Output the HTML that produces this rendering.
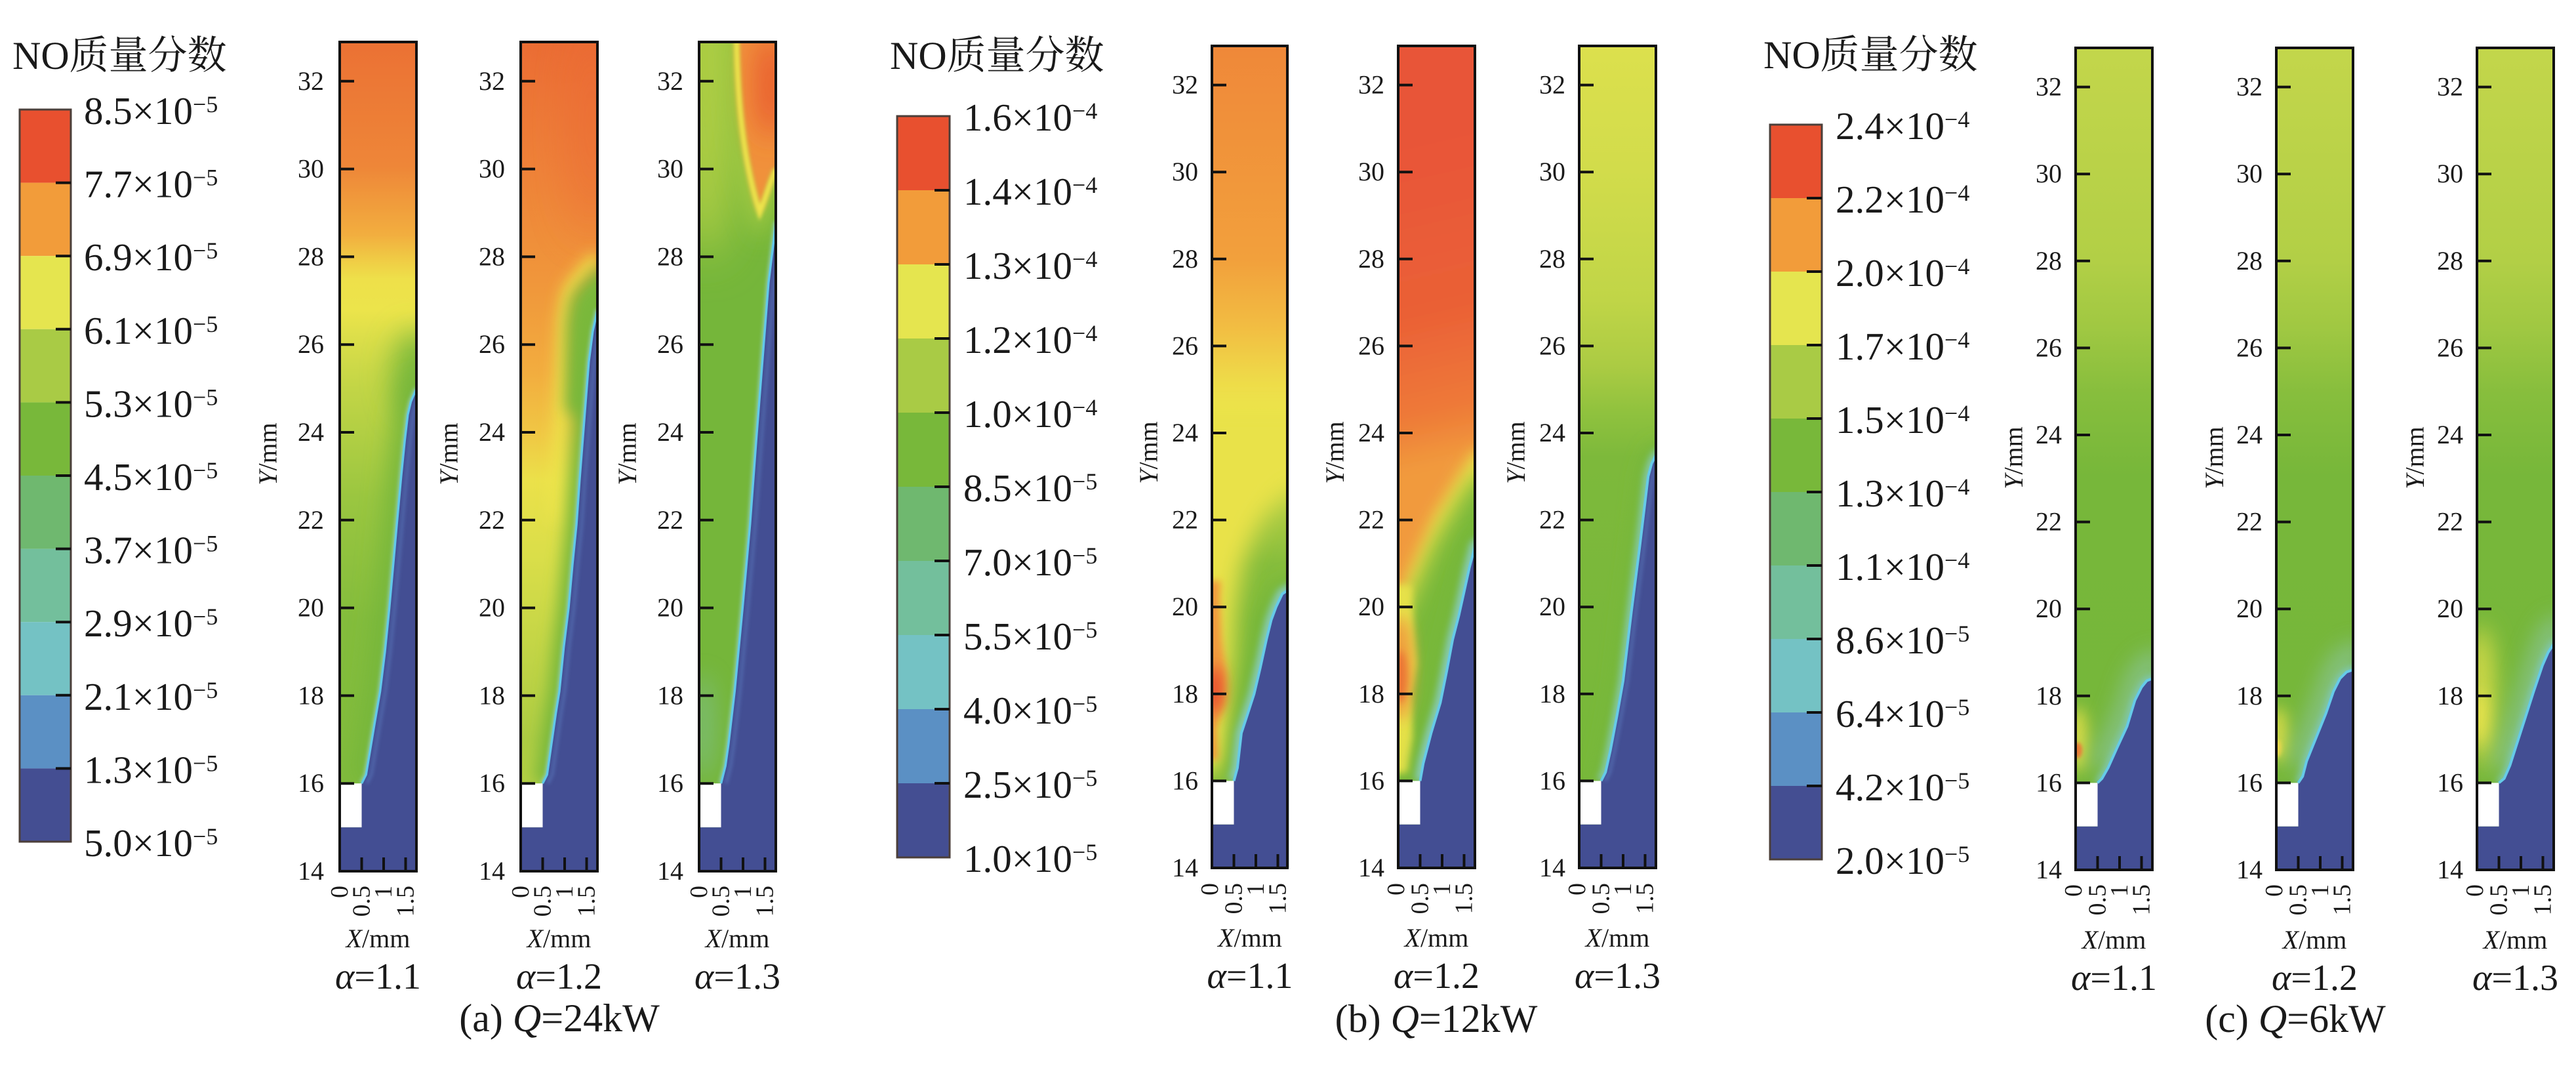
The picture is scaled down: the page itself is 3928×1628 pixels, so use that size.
<!DOCTYPE html>
<html><head><meta charset="utf-8"><style>
html,body{margin:0;padding:0;background:#fff}
svg{display:block}
text{font-family:"Liberation Serif","Noto Serif CJK SC",serif;fill:#1a1a1a}
</style></head><body>
<svg xmlns="http://www.w3.org/2000/svg" width="3928" height="1628" viewBox="0 0 3928 1628">
<defs>
<clipPath id="cp"><rect x="0" y="14" width="1.75" height="18.9"/></clipPath>
<filter id="fb03" filterUnits="userSpaceOnUse" x="-2" y="10" width="6" height="26"><feGaussianBlur stdDeviation="0.04"/></filter>
<filter id="fb05" filterUnits="userSpaceOnUse" x="-2" y="10" width="6" height="26"><feGaussianBlur stdDeviation="0.08"/></filter>
<filter id="fb1" filterUnits="userSpaceOnUse" x="-2" y="10" width="6" height="26"><feGaussianBlur stdDeviation="0.17"/></filter>
<filter id="fb15" filterUnits="userSpaceOnUse" x="-2" y="10" width="6" height="26"><feGaussianBlur stdDeviation="0.26"/></filter>
<filter id="fb2" filterUnits="userSpaceOnUse" x="-2" y="10" width="6" height="26"><feGaussianBlur stdDeviation="0.33"/></filter>
<filter id="fb35" filterUnits="userSpaceOnUse" x="-2" y="10" width="6" height="26"><feGaussianBlur stdDeviation="0.5"/></filter>
<linearGradient id="gA1" gradientUnits="userSpaceOnUse" x1="0" y1="32.9" x2="0" y2="14">
<stop offset="0" stop-color="#EB7134"/><stop offset="0.15" stop-color="#EE8638"/><stop offset="0.233" stop-color="#F2AE3F"/><stop offset="0.259" stop-color="#F0C844"/><stop offset="0.286" stop-color="#EEE04A"/><stop offset="0.323" stop-color="#ECE44B"/><stop offset="0.365" stop-color="#D8DD49"/><stop offset="0.418" stop-color="#C2D546"/><stop offset="0.55" stop-color="#9AC640"/><stop offset="0.70" stop-color="#83BC3C"/><stop offset="1" stop-color="#80BB3C"/>
</linearGradient>
<linearGradient id="gA2" gradientUnits="userSpaceOnUse" x1="0" y1="32.9" x2="0" y2="14">
<stop offset="0" stop-color="#EB6D34"/><stop offset="0.16" stop-color="#EE8339"/><stop offset="0.30" stop-color="#F0983B"/><stop offset="0.40" stop-color="#F2AD3F"/><stop offset="0.47" stop-color="#F0C644"/><stop offset="0.53" stop-color="#EBE14A"/><stop offset="0.62" stop-color="#DADE49"/><stop offset="0.73" stop-color="#C3D546"/><stop offset="0.84" stop-color="#ADCC43"/><stop offset="0.90" stop-color="#B4CF44"/><stop offset="1" stop-color="#B4CF44"/>
</linearGradient>
<linearGradient id="gB1" gradientUnits="userSpaceOnUse" x1="0" y1="32.9" x2="0" y2="14">
<stop offset="0" stop-color="#EF8839"/><stop offset="0.26" stop-color="#F2A03C"/><stop offset="0.34" stop-color="#F2BC42"/><stop offset="0.41" stop-color="#EEDC49"/><stop offset="0.444" stop-color="#EEE44B"/><stop offset="0.524" stop-color="#D6DD48"/><stop offset="0.577" stop-color="#A8CA42"/><stop offset="0.63" stop-color="#86BD3C"/><stop offset="0.70" stop-color="#79B83A"/><stop offset="1" stop-color="#78B83A"/>
</linearGradient>
<linearGradient id="gB2r" gradientUnits="userSpaceOnUse" x1="0" y1="31" x2="1.75" y2="23.5">
<stop offset="0" stop-color="#E85438"/><stop offset="0.55" stop-color="#EA6036"/><stop offset="0.85" stop-color="#EE7A38"/><stop offset="1" stop-color="#F19A3C"/>
</linearGradient>
<linearGradient id="gB3" gradientUnits="userSpaceOnUse" x1="0" y1="32.9" x2="0" y2="14">
<stop offset="0" stop-color="#DCE04D"/><stop offset="0.15" stop-color="#D2DC4B"/><stop offset="0.31" stop-color="#C0D547"/><stop offset="0.39" stop-color="#ABCB43"/><stop offset="0.445" stop-color="#90C23E"/><stop offset="0.50" stop-color="#7DB93B"/><stop offset="1" stop-color="#76B73A"/>
</linearGradient>
<linearGradient id="gC" gradientUnits="userSpaceOnUse" x1="0" y1="32.9" x2="0" y2="14">
<stop offset="0" stop-color="#C3D64B"/><stop offset="0.26" stop-color="#B2CF46"/><stop offset="0.34" stop-color="#A0C842"/><stop offset="0.42" stop-color="#87BE3D"/><stop offset="0.52" stop-color="#77B73A"/><stop offset="1" stop-color="#76B73A"/>
</linearGradient>
</defs>

<!-- ================= LEGEND A ================= -->
<text x="19" y="105" font-size="60">NO质量分数</text>
<g>
<rect x="30" y="167" width="78" height="111.6" fill="#E8502F"/>
<rect x="30" y="278.6" width="78" height="111.6" fill="#F29C3A"/>
<rect x="30" y="390.2" width="78" height="111.6" fill="#E5E54F"/>
<rect x="30" y="501.8" width="78" height="111.6" fill="#A9CB45"/>
<rect x="30" y="613.4" width="78" height="111.6" fill="#78B83A"/>
<rect x="30" y="725" width="78" height="111.6" fill="#6FB86F"/>
<rect x="30" y="836.6" width="78" height="111.6" fill="#73BF9C"/>
<rect x="30" y="948.2" width="78" height="111.6" fill="#74C2C4"/>
<rect x="30" y="1059.8" width="78" height="111.6" fill="#5B90C4"/>
<rect x="30" y="1171.4" width="78" height="111.6" fill="#444E92"/>
<rect x="30" y="167" width="78" height="1116" fill="none" stroke="#4b3f3a" stroke-width="3"/>
<path d="M85,278.6h23M85,390.2h23M85,501.8h23M85,613.4h23M85,725h23M85,836.6h23M85,948.2h23M85,1059.8h23M85,1171.4h23" stroke="#111" stroke-width="4"/>
</g>
<g font-size="59">
<text x="128" y="189">8.5×10<tspan dy="-18" font-size="36">−5</tspan></text>
<text x="128" y="300.6">7.7×10<tspan dy="-18" font-size="36">−5</tspan></text>
<text x="128" y="412.2">6.9×10<tspan dy="-18" font-size="36">−5</tspan></text>
<text x="128" y="523.8">6.1×10<tspan dy="-18" font-size="36">−5</tspan></text>
<text x="128" y="635.4">5.3×10<tspan dy="-18" font-size="36">−5</tspan></text>
<text x="128" y="747">4.5×10<tspan dy="-18" font-size="36">−5</tspan></text>
<text x="128" y="858.6">3.7×10<tspan dy="-18" font-size="36">−5</tspan></text>
<text x="128" y="970.2">2.9×10<tspan dy="-18" font-size="36">−5</tspan></text>
<text x="128" y="1081.8">2.1×10<tspan dy="-18" font-size="36">−5</tspan></text>
<text x="128" y="1193.4">1.3×10<tspan dy="-18" font-size="36">−5</tspan></text>
<text x="128" y="1305">5.0×10<tspan dy="-18" font-size="36">−5</tspan></text>
</g>

<!-- ================= LEGEND B ================= -->
<text x="1357" y="105" font-size="60">NO质量分数</text>
<g>
<rect x="1368" y="177" width="80" height="113" fill="#E8502F"/>
<rect x="1368" y="290" width="80" height="113" fill="#F29C3A"/>
<rect x="1368" y="403" width="80" height="113" fill="#E5E54F"/>
<rect x="1368" y="516" width="80" height="113" fill="#A9CB45"/>
<rect x="1368" y="629" width="80" height="113" fill="#78B83A"/>
<rect x="1368" y="742" width="80" height="113" fill="#6FB86F"/>
<rect x="1368" y="855" width="80" height="113" fill="#73BF9C"/>
<rect x="1368" y="968" width="80" height="113" fill="#74C2C4"/>
<rect x="1368" y="1081" width="80" height="113" fill="#5B90C4"/>
<rect x="1368" y="1194" width="80" height="113" fill="#444E92"/>
<rect x="1368" y="177" width="80" height="1130" fill="none" stroke="#4b3f3a" stroke-width="3"/>
<path d="M1425,290h23M1425,403h23M1425,516h23M1425,629h23M1425,742h23M1425,855h23M1425,968h23M1425,1081h23M1425,1194h23" stroke="#111" stroke-width="4"/>
</g>
<g font-size="59">
<text x="1469" y="199">1.6×10<tspan dy="-18" font-size="36">−4</tspan></text>
<text x="1469" y="312">1.4×10<tspan dy="-18" font-size="36">−4</tspan></text>
<text x="1469" y="425">1.3×10<tspan dy="-18" font-size="36">−4</tspan></text>
<text x="1469" y="538">1.2×10<tspan dy="-18" font-size="36">−4</tspan></text>
<text x="1469" y="651">1.0×10<tspan dy="-18" font-size="36">−4</tspan></text>
<text x="1469" y="764">8.5×10<tspan dy="-18" font-size="36">−5</tspan></text>
<text x="1469" y="877">7.0×10<tspan dy="-18" font-size="36">−5</tspan></text>
<text x="1469" y="990">5.5×10<tspan dy="-18" font-size="36">−5</tspan></text>
<text x="1469" y="1103">4.0×10<tspan dy="-18" font-size="36">−5</tspan></text>
<text x="1469" y="1216">2.5×10<tspan dy="-18" font-size="36">−5</tspan></text>
<text x="1469" y="1329">1.0×10<tspan dy="-18" font-size="36">−5</tspan></text>
</g>

<!-- ================= LEGEND C ================= -->
<text x="2689" y="104" font-size="60">NO质量分数</text>
<g>
<rect x="2699" y="190" width="79" height="112" fill="#E8502F"/>
<rect x="2699" y="302" width="79" height="112" fill="#F29C3A"/>
<rect x="2699" y="414" width="79" height="112" fill="#E5E54F"/>
<rect x="2699" y="526" width="79" height="112" fill="#A9CB45"/>
<rect x="2699" y="638" width="79" height="112" fill="#78B83A"/>
<rect x="2699" y="750" width="79" height="112" fill="#6FB86F"/>
<rect x="2699" y="862" width="79" height="112" fill="#73BF9C"/>
<rect x="2699" y="974" width="79" height="112" fill="#74C2C4"/>
<rect x="2699" y="1086" width="79" height="112" fill="#5B90C4"/>
<rect x="2699" y="1198" width="79" height="112" fill="#444E92"/>
<rect x="2699" y="190" width="79" height="1120" fill="none" stroke="#4b3f3a" stroke-width="3"/>
<path d="M2755,302h23M2755,414h23M2755,526h23M2755,638h23M2755,750h23M2755,862h23M2755,974h23M2755,1086h23M2755,1198h23" stroke="#111" stroke-width="4"/>
</g>
<g font-size="59">
<text x="2799" y="212">2.4×10<tspan dy="-18" font-size="36">−4</tspan></text>
<text x="2799" y="324">2.2×10<tspan dy="-18" font-size="36">−4</tspan></text>
<text x="2799" y="436">2.0×10<tspan dy="-18" font-size="36">−4</tspan></text>
<text x="2799" y="548">1.7×10<tspan dy="-18" font-size="36">−4</tspan></text>
<text x="2799" y="660">1.5×10<tspan dy="-18" font-size="36">−4</tspan></text>
<text x="2799" y="772">1.3×10<tspan dy="-18" font-size="36">−4</tspan></text>
<text x="2799" y="884">1.1×10<tspan dy="-18" font-size="36">−4</tspan></text>
<text x="2799" y="996">8.6×10<tspan dy="-18" font-size="36">−5</tspan></text>
<text x="2799" y="1108">6.4×10<tspan dy="-18" font-size="36">−5</tspan></text>
<text x="2799" y="1220">4.2×10<tspan dy="-18" font-size="36">−5</tspan></text>
<text x="2799" y="1332">2.0×10<tspan dy="-18" font-size="36">−5</tspan></text>
</g>

<!-- ================= PANEL A1 ================= -->
<g transform="translate(518,0)">
 <g transform="translate(0,2264.6) scale(67,-66.9)"><g clip-path="url(#cp)">
  <rect x="-1" y="13" width="4" height="21" fill="url(#gA1)"/>
  <ellipse cx="1.75" cy="25.3" rx="0.55" ry="1.0" fill="#78B83A" filter="url(#fb2)"/>
  <path d="M0.5,16 L0.6,16.2 L0.7,16.8 L0.8,17.4 L0.92,18.1 L1.03,19 L1.13,20 L1.22,21 L1.3,21.9 L1.4,23 L1.48,23.8 L1.55,24.4 L1.62,24.7 L1.75,25 L2,25.1" fill="none" stroke="#74B63A" stroke-width="0.6" filter="url(#fb15)"/>
  <path d="M0.5,16 L0.6,16.2 L0.7,16.8 L0.8,17.4 L0.92,18.1 L1.03,19 L1.13,20 L1.22,21 L1.3,21.9 L1.4,23 L1.48,23.8 L1.55,24.4 L1.62,24.7 L1.75,25" fill="none" stroke="#8FCDB5" stroke-width="0.1" filter="url(#fb03)"/>
  <path d="M0.5,16 L0.6,16.2 L0.7,16.8 L0.8,17.4 L0.92,18.1 L1.03,19 L1.13,20 L1.22,21 L1.3,21.9 L1.4,23 L1.48,23.8 L1.55,24.4 L1.62,24.7 L1.75,25 L2,25 L2,13 L-1,13 L-1,15 L0.5,15 Z" fill="#434E93"/>
  <path d="M0.5,16 L0.6,16.2 L0.7,16.8 L0.8,17.4 L0.92,18.1 L1.03,19 L1.13,20 L1.22,21 L1.3,21.9 L1.4,23 L1.48,23.8 L1.55,24.4 L1.62,24.7 L1.75,25" transform="translate(0.12,0)" fill="none" stroke="#5470B4" stroke-width="0.05" filter="url(#fb03)"/>
  <path d="M0.5,16 L0.6,16.2 L0.7,16.8 L0.8,17.4 L0.92,18.1 L1.03,19 L1.13,20 L1.22,21 L1.3,21.9 L1.4,23 L1.48,23.8 L1.55,24.4 L1.62,24.7 L1.75,25" fill="none" stroke="#62C8EA" stroke-width="0.05"/>
  <rect x="0" y="15" width="0.5" height="1" fill="#fff"/>
 </g></g>
 <rect x="0" y="64" width="117" height="1264" fill="none" stroke="#111" stroke-width="4"/>
 <path d="M0,1194.2h22M0,1060.4h22M0,926.6h22M0,792.8h22M0,659h22M0,525.2h22M0,391.4h22M0,257.6h22M0,123.8h22M33.5,1328v-21M67,1328v-21M100.5,1328v-21" stroke="#111" stroke-width="4"/>
 <g font-size="40" text-anchor="end">
  <text x="-24" y="1341">14</text><text x="-24" y="1207.2">16</text><text x="-24" y="1073.4">18</text><text x="-24" y="939.6">20</text><text x="-24" y="805.8">22</text><text x="-24" y="672">24</text><text x="-24" y="538.2">26</text><text x="-24" y="404.4">28</text><text x="-24" y="270.6">30</text><text x="-24" y="136.8">32</text>
 </g>
 <g font-size="38" text-anchor="end" dominant-baseline="central">
  <text transform="translate(0,1350) rotate(-90)">0</text><text transform="translate(33.5,1350) rotate(-90)">0.5</text><text transform="translate(67,1350) rotate(-90)">1</text><text transform="translate(100.5,1350) rotate(-90)">1.5</text>
 </g>
 <text transform="translate(-110,692) rotate(-90)" text-anchor="middle" dominant-baseline="central" font-size="40"><tspan font-style="italic">Y</tspan>/mm</text>
 <text x="58.5" y="1444" text-anchor="middle" font-size="40"><tspan font-style="italic">X</tspan>/mm</text>
 <text x="58.5" y="1507" text-anchor="middle" font-size="56"><tspan font-style="italic">α</tspan>=1.1</text>
</g>

<!-- ================= PANEL A2 ================= -->
<g transform="translate(794,0)">
 <g transform="translate(0,2264.6) scale(67,-66.9)"><g clip-path="url(#cp)">
  <rect x="-1" y="13" width="4" height="21" fill="url(#gA2)"/>
  <ellipse cx="1.6" cy="31" rx="0.5" ry="2.5" fill="#EB6834" opacity="0.6" filter="url(#fb35)"/>
  <path d="M0.85,22 L0.95,25 L1.0,26.6 L1.1,27.2 L1.35,27.55 L1.75,28" fill="none" stroke="#EEE54B" stroke-width="0.3" filter="url(#fb1)"/>
  <path d="M1.02,24.5 L1.05,26.5 L1.14,27.05 L1.35,27.35 L1.75,27.75 L2.2,27.75 L2.2,24 Z" fill="#7BB93B" filter="url(#fb1)"/>
  <path d="M0.5,16 L0.6,16.2 L0.7,16.9 L0.8,17.6 L0.88,18.1 L0.98,19.1 L1.09,20 L1.18,21 L1.27,21.9 L1.34,22.9 L1.41,23.8 L1.48,24.7 L1.55,25.6 L1.64,26.3 L1.75,26.8 L2,27" fill="none" stroke="#78B83A" stroke-width="0.5" filter="url(#fb1)"/>
  <path d="M0.5,16 L0.6,16.2 L0.7,16.9 L0.8,17.6 L0.88,18.1 L0.98,19.1 L1.09,20 L1.18,21 L1.27,21.9 L1.34,22.9 L1.41,23.8 L1.48,24.7 L1.55,25.6 L1.64,26.3 L1.75,26.8" fill="none" stroke="#8FCDB5" stroke-width="0.1" filter="url(#fb03)"/>
  <path d="M0.5,16 L0.6,16.2 L0.7,16.9 L0.8,17.6 L0.88,18.1 L0.98,19.1 L1.09,20 L1.18,21 L1.27,21.9 L1.34,22.9 L1.41,23.8 L1.48,24.7 L1.55,25.6 L1.64,26.3 L1.75,26.8 L2,26.8 L2,13 L-1,13 L-1,15 L0.5,15 Z" fill="#434E93"/>
  <path d="M0.5,16 L0.6,16.2 L0.7,16.9 L0.8,17.6 L0.88,18.1 L0.98,19.1 L1.09,20 L1.18,21 L1.27,21.9 L1.34,22.9 L1.41,23.8 L1.48,24.7 L1.55,25.6 L1.64,26.3 L1.75,26.8" transform="translate(0.12,0)" fill="none" stroke="#5470B4" stroke-width="0.05" filter="url(#fb03)"/>
  <path d="M0.5,16 L0.6,16.2 L0.7,16.9 L0.8,17.6 L0.88,18.1 L0.98,19.1 L1.09,20 L1.18,21 L1.27,21.9 L1.34,22.9 L1.41,23.8 L1.48,24.7 L1.55,25.6 L1.64,26.3 L1.75,26.8" fill="none" stroke="#62C8EA" stroke-width="0.05"/>
  <rect x="0" y="15" width="0.5" height="1" fill="#fff"/>
 </g></g>
 <rect x="0" y="64" width="117" height="1264" fill="none" stroke="#111" stroke-width="4"/>
 <path d="M0,1194.2h22M0,1060.4h22M0,926.6h22M0,792.8h22M0,659h22M0,525.2h22M0,391.4h22M0,257.6h22M0,123.8h22M33.5,1328v-21M67,1328v-21M100.5,1328v-21" stroke="#111" stroke-width="4"/>
 <g font-size="40" text-anchor="end">
  <text x="-24" y="1341">14</text><text x="-24" y="1207.2">16</text><text x="-24" y="1073.4">18</text><text x="-24" y="939.6">20</text><text x="-24" y="805.8">22</text><text x="-24" y="672">24</text><text x="-24" y="538.2">26</text><text x="-24" y="404.4">28</text><text x="-24" y="270.6">30</text><text x="-24" y="136.8">32</text>
 </g>
 <g font-size="38" text-anchor="end" dominant-baseline="central">
  <text transform="translate(0,1350) rotate(-90)">0</text><text transform="translate(33.5,1350) rotate(-90)">0.5</text><text transform="translate(67,1350) rotate(-90)">1</text><text transform="translate(100.5,1350) rotate(-90)">1.5</text>
 </g>
 <text transform="translate(-110,692) rotate(-90)" text-anchor="middle" dominant-baseline="central" font-size="40"><tspan font-style="italic">Y</tspan>/mm</text>
 <text x="58.5" y="1444" text-anchor="middle" font-size="40"><tspan font-style="italic">X</tspan>/mm</text>
 <text x="58.5" y="1507" text-anchor="middle" font-size="56"><tspan font-style="italic">α</tspan>=1.2</text>
</g>

<!-- ================= PANEL A3 ================= -->
<g transform="translate(1066,0)">
 <g transform="translate(0,2264.6) scale(67,-66.9)"><g clip-path="url(#cp)">
  <rect x="-1" y="13" width="4" height="21" fill="#75B63A"/>
  <ellipse cx="0.15" cy="32.5" rx="0.75" ry="4.5" fill="#B2CF45" filter="url(#fb35)"/>
  <ellipse cx="0.1" cy="17.3" rx="0.25" ry="1.2" fill="#7FBF8C" opacity="0.7" filter="url(#fb15)"/>
  <path d="M0.85,33 C0.88,31.5 1.0,30.2 1.38,29.0 C1.5,29.3 1.65,29.8 1.75,30.0" fill="none" stroke="#A6CA42" stroke-width="0.45" filter="url(#fb15)"/>
  <path d="M0.85,33.5 L0.85,33 C0.88,31.5 1.0,30.2 1.38,29.0 C1.5,29.3 1.65,29.8 1.75,30.0 L2.2,30.2 L2.2,33.5 Z" fill="#F0913A" filter="url(#fb05)"/>
  <ellipse cx="1.62" cy="31.9" rx="0.3" ry="1.2" fill="#E8532F" filter="url(#fb2)"/>
  <path d="M0.85,33 C0.88,31.5 1.0,30.2 1.38,29.0 C1.5,29.3 1.65,29.8 1.75,30.0" fill="none" stroke="#EDE44B" stroke-width="0.12" filter="url(#fb03)"/>
  <path d="M0.5,16 L0.6,16.4 L0.67,16.9 L0.81,18.1 L0.99,20 L1.16,21.9 L1.3,23.8 L1.44,25.6 L1.58,27.4 L1.69,28.3 L1.75,28.8" fill="none" stroke="#8FCDB5" stroke-width="0.1" filter="url(#fb03)"/>
  <path d="M0.5,16 L0.6,16.4 L0.67,16.9 L0.81,18.1 L0.99,20 L1.16,21.9 L1.3,23.8 L1.44,25.6 L1.58,27.4 L1.69,28.3 L1.75,28.8 L2,28.8 L2,13 L-1,13 L-1,15 L0.5,15 Z" fill="#434E93"/>
  <path d="M0.5,16 L0.6,16.4 L0.67,16.9 L0.81,18.1 L0.99,20 L1.16,21.9 L1.3,23.8 L1.44,25.6 L1.58,27.4 L1.69,28.3 L1.75,28.8" transform="translate(0.12,0)" fill="none" stroke="#5470B4" stroke-width="0.05" filter="url(#fb03)"/>
  <path d="M0.5,16 L0.6,16.4 L0.67,16.9 L0.81,18.1 L0.99,20 L1.16,21.9 L1.3,23.8 L1.44,25.6 L1.58,27.4 L1.69,28.3 L1.75,28.8" fill="none" stroke="#62C8EA" stroke-width="0.05"/>
  <rect x="0" y="15" width="0.5" height="1" fill="#fff"/>
 </g></g>
 <rect x="0" y="64" width="117" height="1264" fill="none" stroke="#111" stroke-width="4"/>
 <path d="M0,1194.2h22M0,1060.4h22M0,926.6h22M0,792.8h22M0,659h22M0,525.2h22M0,391.4h22M0,257.6h22M0,123.8h22M33.5,1328v-21M67,1328v-21M100.5,1328v-21" stroke="#111" stroke-width="4"/>
 <g font-size="40" text-anchor="end">
  <text x="-24" y="1341">14</text><text x="-24" y="1207.2">16</text><text x="-24" y="1073.4">18</text><text x="-24" y="939.6">20</text><text x="-24" y="805.8">22</text><text x="-24" y="672">24</text><text x="-24" y="538.2">26</text><text x="-24" y="404.4">28</text><text x="-24" y="270.6">30</text><text x="-24" y="136.8">32</text>
 </g>
 <g font-size="38" text-anchor="end" dominant-baseline="central">
  <text transform="translate(0,1350) rotate(-90)">0</text><text transform="translate(33.5,1350) rotate(-90)">0.5</text><text transform="translate(67,1350) rotate(-90)">1</text><text transform="translate(100.5,1350) rotate(-90)">1.5</text>
 </g>
 <text transform="translate(-110,692) rotate(-90)" text-anchor="middle" dominant-baseline="central" font-size="40"><tspan font-style="italic">Y</tspan>/mm</text>
 <text x="58.5" y="1444" text-anchor="middle" font-size="40"><tspan font-style="italic">X</tspan>/mm</text>
 <text x="58.5" y="1507" text-anchor="middle" font-size="56"><tspan font-style="italic">α</tspan>=1.3</text>
</g>
<text x="853" y="1572" text-anchor="middle" font-size="60">(a) <tspan font-style="italic">Q</tspan>=24kW</text>

<!-- ================= PANEL B1 ================= -->
<g transform="translate(1848,0)">
 <g transform="translate(0,2251.2) scale(67,-66.3)"><g clip-path="url(#cp)">
  <rect x="-1" y="13" width="4" height="21" fill="url(#gB1)"/>
  <path d="M-0.5,16.2 L0.3,16.2 L0.45,17 L0.42,18 L0.5,19 L0.55,20 L0.7,21 L1,21.8 L1.3,22.3 L1.75,22.8 L2.3,22.8 L2.3,24.6 L-0.5,24.6 Z" fill="#E9E24A" filter="url(#fb15)"/>
  <path d="M-0.5,16.4 L0.15,16.5 L0.1,17.2 L0.28,17.8 L0.32,18.5 L0.22,19.3 L0.18,20.2 L0.2,20.6 L-0.5,20.6 Z" fill="#F19A3C" filter="url(#fb05)"/>
  <ellipse cx="0.05" cy="18.1" rx="0.22" ry="0.55" fill="#E84E2F" filter="url(#fb1)"/>
  <path d="M0.5,16 L0.58,16.3 L0.67,17.1 L0.8,17.5 L0.96,18 L1.1,18.6 L1.24,19.25 L1.35,19.7 L1.46,20 L1.6,20.3 L1.75,20.4 L2,20.5" fill="none" stroke="#76B73A" stroke-width="0.5" filter="url(#fb1)"/>
  <path d="M0.5,16 L0.58,16.3 L0.67,17.1 L0.8,17.5 L0.96,18 L1.1,18.6 L1.24,19.25 L1.35,19.7 L1.46,20 L1.6,20.3 L1.75,20.4 L2,20.5" fill="none" stroke="#86CBB8" stroke-width="0.25" filter="url(#fb05)"/>
  <path d="M0.5,16 L0.58,16.3 L0.67,17.1 L0.8,17.5 L0.96,18 L1.1,18.6 L1.24,19.25 L1.35,19.7 L1.46,20 L1.6,20.3 L1.75,20.4 L2,20.4 L2,13 L-1,13 L-1,15 L0.5,15 Z" fill="#434E93"/>
  <path d="M0.5,16 L0.58,16.3 L0.67,17.1 L0.8,17.5 L0.96,18 L1.1,18.6 L1.24,19.25 L1.35,19.7 L1.46,20 L1.6,20.3 L1.75,20.4 L2,20.5" fill="none" stroke="#66CAE8" stroke-width="0.06"/>
  <rect x="0" y="15" width="0.5" height="1" fill="#fff"/>
 </g></g>
 <rect x="0" y="70" width="115" height="1253" fill="none" stroke="#111" stroke-width="4"/>
 <path d="M0,1190.4h22M0,1057.8h22M0,925.2h22M0,792.6h22M0,660h22M0,527.4h22M0,394.8h22M0,262.2h22M0,129.6h22M33.5,1323v-21M67,1323v-21M100.5,1323v-21" stroke="#111" stroke-width="4"/>
 <g font-size="40" text-anchor="end">
  <text x="-21" y="1336">14</text><text x="-21" y="1203.4">16</text><text x="-21" y="1070.8">18</text><text x="-21" y="938.2">20</text><text x="-21" y="805.6">22</text><text x="-21" y="673">24</text><text x="-21" y="540.4">26</text><text x="-21" y="407.8">28</text><text x="-21" y="275.2">30</text><text x="-21" y="142.6">32</text>
 </g>
 <g font-size="38" text-anchor="end" dominant-baseline="central">
  <text transform="translate(-3,1346) rotate(-90)">0</text><text transform="translate(33.5,1346) rotate(-90)">0.5</text><text transform="translate(67,1346) rotate(-90)">1</text><text transform="translate(100.5,1346) rotate(-90)">1.5</text>
 </g>
 <text transform="translate(-97,690) rotate(-90)" text-anchor="middle" dominant-baseline="central" font-size="40"><tspan font-style="italic">Y</tspan>/mm</text>
 <text x="58" y="1443" text-anchor="middle" font-size="40"><tspan font-style="italic">X</tspan>/mm</text>
 <text x="58" y="1506" text-anchor="middle" font-size="56"><tspan font-style="italic">α</tspan>=1.1</text>
</g>

<!-- ================= PANEL B2 ================= -->
<g transform="translate(2132,0)">
 <g transform="translate(0,2251.2) scale(67,-66.3)"><g clip-path="url(#cp)">
  <rect x="-1" y="13" width="4" height="21" fill="#78B83A"/>
  <path d="M-0.5,33.5 L2.3,33.5 L2.3,23 L1.75,23 L1.36,22.4 L0.79,21.4 L0.03,19.6 L-0.5,19.6 Z" fill="#E6E14A" filter="url(#fb15)"/>
  <path d="M-0.5,33.5 L2.3,33.5 L2.3,23.6 L1.75,23.6 L1.36,23.0 L0.79,22.06 L0.03,20.3 L-0.5,20.3 Z" fill="url(#gB2r)" filter="url(#fb1)"/>
  <path d="M-0.5,16.1 L0.25,16.2 L0.35,17 L0.3,18 L0.42,18.7 L0.35,19.5 L0.3,20.5 L-0.5,20.5 Z" fill="#E6E14A" filter="url(#fb05)"/>
  <ellipse cx="0.05" cy="18.6" rx="0.28" ry="1.2" fill="#F09A3C" filter="url(#fb1)"/>
  <ellipse cx="0.05" cy="18.4" rx="0.15" ry="0.6" fill="#EC7636" filter="url(#fb05)"/>
  <path d="M0.5,16 L0.57,16.4 L0.75,17.1 L0.96,17.8 L1.1,18.5 L1.24,19.25 L1.38,19.8 L1.49,20.3 L1.62,20.9 L1.75,21.4 L2,21.6" fill="none" stroke="#76B73A" stroke-width="0.5" filter="url(#fb1)"/>
  <path d="M0.5,16 L0.57,16.4 L0.75,17.1 L0.96,17.8 L1.1,18.5 L1.24,19.25 L1.38,19.8 L1.49,20.3 L1.62,20.9 L1.75,21.4 L2,21.6" fill="none" stroke="#86CBB8" stroke-width="0.25" filter="url(#fb05)"/>
  <path d="M0.5,16 L0.57,16.4 L0.75,17.1 L0.96,17.8 L1.1,18.5 L1.24,19.25 L1.38,19.8 L1.49,20.3 L1.62,20.9 L1.75,21.4 L2,21.4 L2,13 L-1,13 L-1,15 L0.5,15 Z" fill="#434E93"/>
  <path d="M0.5,16 L0.57,16.4 L0.75,17.1 L0.96,17.8 L1.1,18.5 L1.24,19.25 L1.38,19.8 L1.49,20.3 L1.62,20.9 L1.75,21.4 L2,21.6" fill="none" stroke="#66CAE8" stroke-width="0.06"/>
  <rect x="0" y="15" width="0.5" height="1" fill="#fff"/>
 </g></g>
 <rect x="0" y="70" width="117" height="1253" fill="none" stroke="#111" stroke-width="4"/>
 <path d="M0,1190.4h22M0,1057.8h22M0,925.2h22M0,792.6h22M0,660h22M0,527.4h22M0,394.8h22M0,262.2h22M0,129.6h22M33.5,1323v-21M67,1323v-21M100.5,1323v-21" stroke="#111" stroke-width="4"/>
 <g font-size="40" text-anchor="end">
  <text x="-21" y="1336">14</text><text x="-21" y="1203.4">16</text><text x="-21" y="1070.8">18</text><text x="-21" y="938.2">20</text><text x="-21" y="805.6">22</text><text x="-21" y="673">24</text><text x="-21" y="540.4">26</text><text x="-21" y="407.8">28</text><text x="-21" y="275.2">30</text><text x="-21" y="142.6">32</text>
 </g>
 <g font-size="38" text-anchor="end" dominant-baseline="central">
  <text transform="translate(-3,1346) rotate(-90)">0</text><text transform="translate(33.5,1346) rotate(-90)">0.5</text><text transform="translate(67,1346) rotate(-90)">1</text><text transform="translate(100.5,1346) rotate(-90)">1.5</text>
 </g>
 <text transform="translate(-97,690) rotate(-90)" text-anchor="middle" dominant-baseline="central" font-size="40"><tspan font-style="italic">Y</tspan>/mm</text>
 <text x="58.5" y="1443" text-anchor="middle" font-size="40"><tspan font-style="italic">X</tspan>/mm</text>
 <text x="58.5" y="1506" text-anchor="middle" font-size="56"><tspan font-style="italic">α</tspan>=1.2</text>
</g>

<!-- ================= PANEL B3 ================= -->
<g transform="translate(2408,0)">
 <g transform="translate(0,2251.2) scale(67,-66.3)"><g clip-path="url(#cp)">
  <rect x="-1" y="13" width="4" height="21" fill="url(#gB3)"/>
  <path d="M0.5,16 L0.6,16.2 L0.71,16.7 L0.86,17.5 L1,18.3 L1.19,19.9 L1.38,21.4 L1.57,23 L1.65,23.3 L1.75,23.5 L2,23.6" fill="none" stroke="#76B73A" stroke-width="0.5" filter="url(#fb1)"/>
  <path d="M0.5,16 L0.6,16.2 L0.71,16.7 L0.86,17.5 L1,18.3 L1.19,19.9 L1.38,21.4 L1.57,23 L1.65,23.3 L1.75,23.5 L2,23.6" fill="none" stroke="#86CBB8" stroke-width="0.18" filter="url(#fb05)"/>
  <path d="M0.5,16 L0.6,16.2 L0.71,16.7 L0.86,17.5 L1,18.3 L1.19,19.9 L1.38,21.4 L1.57,23 L1.65,23.3 L1.75,23.5 L2,23.5 L2,13 L-1,13 L-1,15 L0.5,15 Z" fill="#434E93"/>
  <path d="M0.5,16 L0.6,16.2 L0.71,16.7 L0.86,17.5 L1,18.3 L1.19,19.9 L1.38,21.4 L1.57,23 L1.65,23.3 L1.75,23.5" transform="translate(0.1,0)" fill="none" stroke="#5470B4" stroke-width="0.05" filter="url(#fb03)"/>
  <path d="M0.5,16 L0.6,16.2 L0.71,16.7 L0.86,17.5 L1,18.3 L1.19,19.9 L1.38,21.4 L1.57,23 L1.65,23.3 L1.75,23.5 L2,23.6" fill="none" stroke="#66CAE8" stroke-width="0.06"/>
  <rect x="0" y="15" width="0.5" height="1" fill="#fff"/>
 </g></g>
 <rect x="0" y="70" width="117" height="1253" fill="none" stroke="#111" stroke-width="4"/>
 <path d="M0,1190.4h22M0,1057.8h22M0,925.2h22M0,792.6h22M0,660h22M0,527.4h22M0,394.8h22M0,262.2h22M0,129.6h22M33.5,1323v-21M67,1323v-21M100.5,1323v-21" stroke="#111" stroke-width="4"/>
 <g font-size="40" text-anchor="end">
  <text x="-21" y="1336">14</text><text x="-21" y="1203.4">16</text><text x="-21" y="1070.8">18</text><text x="-21" y="938.2">20</text><text x="-21" y="805.6">22</text><text x="-21" y="673">24</text><text x="-21" y="540.4">26</text><text x="-21" y="407.8">28</text><text x="-21" y="275.2">30</text><text x="-21" y="142.6">32</text>
 </g>
 <g font-size="38" text-anchor="end" dominant-baseline="central">
  <text transform="translate(-3,1346) rotate(-90)">0</text><text transform="translate(33.5,1346) rotate(-90)">0.5</text><text transform="translate(67,1346) rotate(-90)">1</text><text transform="translate(100.5,1346) rotate(-90)">1.5</text>
 </g>
 <text transform="translate(-97,690) rotate(-90)" text-anchor="middle" dominant-baseline="central" font-size="40"><tspan font-style="italic">Y</tspan>/mm</text>
 <text x="58.5" y="1443" text-anchor="middle" font-size="40"><tspan font-style="italic">X</tspan>/mm</text>
 <text x="58.5" y="1506" text-anchor="middle" font-size="56"><tspan font-style="italic">α</tspan>=1.3</text>
</g>
<text x="2190" y="1573" text-anchor="middle" font-size="60">(b) <tspan font-style="italic">Q</tspan>=12kW</text>

<!-- ================= PANEL C1 ================= -->
<g transform="translate(3165,0)">
 <g transform="translate(0,2254.2) scale(67,-66.3)"><g clip-path="url(#cp)">
  <rect x="-1" y="13" width="4" height="21" fill="url(#gC)"/>
  <ellipse cx="0.05" cy="17.0" rx="0.22" ry="0.75" fill="#DCDD4A" filter="url(#fb1)"/>
  <ellipse cx="0.05" cy="16.75" rx="0.1" ry="0.18" fill="#EC7A36" filter="url(#fb03)"/>
  <path d="M0.5,16 L0.6,16.1 L0.74,16.35 L0.94,16.8 L1.17,17.3 L1.35,17.9 L1.5,18.2 L1.62,18.35 L1.75,18.4 L2,18.5" transform="translate(0,0.35)" fill="none" stroke="#8CC6A6" stroke-width="0.45" opacity="0.8" filter="url(#fb15)"/>
  <path d="M0.5,16 L0.6,16.1 L0.74,16.35 L0.94,16.8 L1.17,17.3 L1.35,17.9 L1.5,18.2 L1.62,18.35 L1.75,18.4 L2,18.5" fill="none" stroke="#7FC9C0" stroke-width="0.15" filter="url(#fb05)"/>
  <path d="M0.5,16 L0.6,16.1 L0.74,16.35 L0.94,16.8 L1.17,17.3 L1.35,17.9 L1.5,18.2 L1.62,18.35 L1.75,18.4 L2,18.4 L2,13 L-1,13 L-1,15 L0.5,15 Z" fill="#434E93"/>
  <path d="M0.5,16 L0.6,16.1 L0.74,16.35 L0.94,16.8 L1.17,17.3 L1.35,17.9 L1.5,18.2 L1.62,18.35 L1.75,18.4 L2,18.5" fill="none" stroke="#66CAE8" stroke-width="0.06"/>
  <rect x="0" y="15" width="0.5" height="1" fill="#fff"/>
 </g></g>
 <rect x="0" y="73" width="117" height="1253" fill="none" stroke="#111" stroke-width="4"/>
 <path d="M0,1193.4h22M0,1060.8h22M0,928.2h22M0,795.6h22M0,663h22M0,530.4h22M0,397.8h22M0,265.2h22M0,132.6h22M33.5,1326v-21M67,1326v-21M100.5,1326v-21" stroke="#111" stroke-width="4"/>
 <g font-size="40" text-anchor="end">
  <text x="-21" y="1339">14</text><text x="-21" y="1206.4">16</text><text x="-21" y="1073.8">18</text><text x="-21" y="941.2">20</text><text x="-21" y="808.6">22</text><text x="-21" y="676">24</text><text x="-21" y="543.4">26</text><text x="-21" y="410.8">28</text><text x="-21" y="278.2">30</text><text x="-21" y="145.6">32</text>
 </g>
 <g font-size="38" text-anchor="end" dominant-baseline="central">
  <text transform="translate(-3,1348) rotate(-90)">0</text><text transform="translate(33.5,1348) rotate(-90)">0.5</text><text transform="translate(67,1348) rotate(-90)">1</text><text transform="translate(100.5,1348) rotate(-90)">1.5</text>
 </g>
 <text transform="translate(-95,698) rotate(-90)" text-anchor="middle" dominant-baseline="central" font-size="40"><tspan font-style="italic">Y</tspan>/mm</text>
 <text x="58.5" y="1446" text-anchor="middle" font-size="40"><tspan font-style="italic">X</tspan>/mm</text>
 <text x="58.5" y="1509" text-anchor="middle" font-size="56"><tspan font-style="italic">α</tspan>=1.1</text>
</g>

<!-- ================= PANEL C2 ================= -->
<g transform="translate(3471,0)">
 <g transform="translate(0,2254.2) scale(67,-66.3)"><g clip-path="url(#cp)">
  <rect x="-1" y="13" width="4" height="21" fill="url(#gC)"/>
  <ellipse cx="0.05" cy="17.1" rx="0.2" ry="0.65" fill="#DEDE4A" filter="url(#fb1)"/>
  <ellipse cx="0.04" cy="16.8" rx="0.08" ry="0.2" fill="#EBD848" filter="url(#fb03)"/>
  <path d="M0.5,16 L0.6,16.15 L0.69,16.5 L0.89,17 L1.13,17.6 L1.3,18.1 L1.45,18.4 L1.6,18.55 L1.75,18.6 L2,18.7" transform="translate(0,0.35)" fill="none" stroke="#8CC6A6" stroke-width="0.45" opacity="0.8" filter="url(#fb15)"/>
  <path d="M0.5,16 L0.6,16.15 L0.69,16.5 L0.89,17 L1.13,17.6 L1.3,18.1 L1.45,18.4 L1.6,18.55 L1.75,18.6 L2,18.7" fill="none" stroke="#7FC9C0" stroke-width="0.15" filter="url(#fb05)"/>
  <path d="M0.5,16 L0.6,16.15 L0.69,16.5 L0.89,17 L1.13,17.6 L1.3,18.1 L1.45,18.4 L1.6,18.55 L1.75,18.6 L2,18.6 L2,13 L-1,13 L-1,15 L0.5,15 Z" fill="#434E93"/>
  <path d="M0.5,16 L0.6,16.15 L0.69,16.5 L0.89,17 L1.13,17.6 L1.3,18.1 L1.45,18.4 L1.6,18.55 L1.75,18.6 L2,18.7" fill="none" stroke="#66CAE8" stroke-width="0.06"/>
  <rect x="0" y="15" width="0.5" height="1" fill="#fff"/>
 </g></g>
 <rect x="0" y="73" width="117" height="1253" fill="none" stroke="#111" stroke-width="4"/>
 <path d="M0,1193.4h22M0,1060.8h22M0,928.2h22M0,795.6h22M0,663h22M0,530.4h22M0,397.8h22M0,265.2h22M0,132.6h22M33.5,1326v-21M67,1326v-21M100.5,1326v-21" stroke="#111" stroke-width="4"/>
 <g font-size="40" text-anchor="end">
  <text x="-21" y="1339">14</text><text x="-21" y="1206.4">16</text><text x="-21" y="1073.8">18</text><text x="-21" y="941.2">20</text><text x="-21" y="808.6">22</text><text x="-21" y="676">24</text><text x="-21" y="543.4">26</text><text x="-21" y="410.8">28</text><text x="-21" y="278.2">30</text><text x="-21" y="145.6">32</text>
 </g>
 <g font-size="38" text-anchor="end" dominant-baseline="central">
  <text transform="translate(-3,1348) rotate(-90)">0</text><text transform="translate(33.5,1348) rotate(-90)">0.5</text><text transform="translate(67,1348) rotate(-90)">1</text><text transform="translate(100.5,1348) rotate(-90)">1.5</text>
 </g>
 <text transform="translate(-95,698) rotate(-90)" text-anchor="middle" dominant-baseline="central" font-size="40"><tspan font-style="italic">Y</tspan>/mm</text>
 <text x="58.5" y="1446" text-anchor="middle" font-size="40"><tspan font-style="italic">X</tspan>/mm</text>
 <text x="58.5" y="1509" text-anchor="middle" font-size="56"><tspan font-style="italic">α</tspan>=1.2</text>
</g>

<!-- ================= PANEL C3 ================= -->
<g transform="translate(3777,0)">
 <g transform="translate(0,2254.2) scale(67,-66.3)"><g clip-path="url(#cp)">
  <rect x="-1" y="13" width="4" height="21" fill="url(#gC)"/>
  <ellipse cx="0.08" cy="18.0" rx="0.3" ry="1.6" fill="#DCDD4A" filter="url(#fb15)"/>
  <ellipse cx="0.05" cy="17.5" rx="0.15" ry="0.6" fill="#EEE64D" filter="url(#fb1)"/>
  <path d="M0.5,16 L0.62,16.1 L0.75,16.4 L0.94,17 L1.1,17.5 L1.29,18.1 L1.49,18.7 L1.62,19 L1.75,19.2 L2,19.3" transform="translate(0,0.35)" fill="none" stroke="#8CC6A6" stroke-width="0.45" opacity="0.8" filter="url(#fb15)"/>
  <path d="M0.5,16 L0.62,16.1 L0.75,16.4 L0.94,17 L1.1,17.5 L1.29,18.1 L1.49,18.7 L1.62,19 L1.75,19.2 L2,19.3" fill="none" stroke="#7FC9C0" stroke-width="0.15" filter="url(#fb05)"/>
  <path d="M0.5,16 L0.62,16.1 L0.75,16.4 L0.94,17 L1.1,17.5 L1.29,18.1 L1.49,18.7 L1.62,19 L1.75,19.2 L2,19.2 L2,13 L-1,13 L-1,15 L0.5,15 Z" fill="#434E93"/>
  <path d="M0.5,16 L0.62,16.1 L0.75,16.4 L0.94,17 L1.1,17.5 L1.29,18.1 L1.49,18.7 L1.62,19 L1.75,19.2 L2,19.3" fill="none" stroke="#66CAE8" stroke-width="0.06"/>
  <rect x="0" y="15" width="0.5" height="1" fill="#fff"/>
 </g></g>
 <rect x="0" y="73" width="117" height="1253" fill="none" stroke="#111" stroke-width="4"/>
 <path d="M0,1193.4h22M0,1060.8h22M0,928.2h22M0,795.6h22M0,663h22M0,530.4h22M0,397.8h22M0,265.2h22M0,132.6h22M33.5,1326v-21M67,1326v-21M100.5,1326v-21" stroke="#111" stroke-width="4"/>
 <g font-size="40" text-anchor="end">
  <text x="-21" y="1339">14</text><text x="-21" y="1206.4">16</text><text x="-21" y="1073.8">18</text><text x="-21" y="941.2">20</text><text x="-21" y="808.6">22</text><text x="-21" y="676">24</text><text x="-21" y="543.4">26</text><text x="-21" y="410.8">28</text><text x="-21" y="278.2">30</text><text x="-21" y="145.6">32</text>
 </g>
 <g font-size="38" text-anchor="end" dominant-baseline="central">
  <text transform="translate(-3,1348) rotate(-90)">0</text><text transform="translate(33.5,1348) rotate(-90)">0.5</text><text transform="translate(67,1348) rotate(-90)">1</text><text transform="translate(100.5,1348) rotate(-90)">1.5</text>
 </g>
 <text transform="translate(-95,698) rotate(-90)" text-anchor="middle" dominant-baseline="central" font-size="40"><tspan font-style="italic">Y</tspan>/mm</text>
 <text x="58.5" y="1446" text-anchor="middle" font-size="40"><tspan font-style="italic">X</tspan>/mm</text>
 <text x="58.5" y="1509" text-anchor="middle" font-size="56"><tspan font-style="italic">α</tspan>=1.3</text>
</g>
<text x="3500" y="1573" text-anchor="middle" font-size="60">(c) <tspan font-style="italic">Q</tspan>=6kW</text>
</svg>
</body></html>
